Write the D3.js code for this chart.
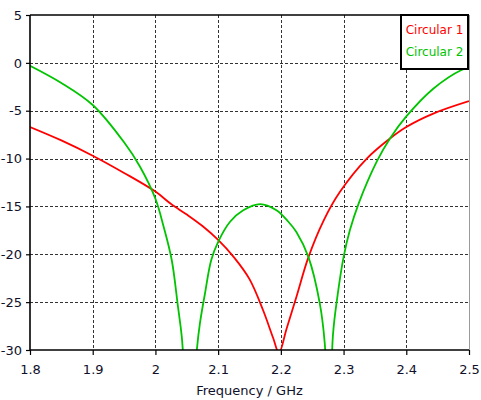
<!DOCTYPE html>
<html>
<head>
<meta charset="utf-8">
<script src="https://cdn.jsdelivr.net/npm/d3@7"></script>
<style>
  html, body { margin: 0; padding: 0; background: #fff; }
  svg { display: block; }
  text { font-family: "DejaVu Sans", Verdana, sans-serif; }
</style>
</head>
<body>
<svg id="chart" width="481" height="400"></svg>
<script>
// Frequency sweep (GHz) and |S| levels (dB) for both circular ports
const freq1 = [1.80, 1.85, 1.90, 1.95, 2.00, 2.025, 2.05, 2.075, 2.10, 2.125, 2.15, 2.172, 2.188, 2.197,
               2.209, 2.225, 2.244, 2.268, 2.294, 2.337, 2.374, 2.40, 2.443, 2.50];
const circular1 = [-6.7, -8.1, -9.7, -11.5, -13.45, -14.75, -15.85, -17.05, -18.5, -20.3, -22.6, -25.9, -28.8, -30.3,
                   -27.8, -24.4, -20.3, -16.5, -13.5, -10.0, -7.9, -6.7, -5.3, -4.0];

const freq2 = [1.80, 1.85, 1.90, 1.95, 1.975, 2.00, 2.013, 2.026, 2.036, 2.042, 2.055,
               2.066, 2.071, 2.079, 2.089, 2.10, 2.119, 2.140, 2.167, 2.193, 2.212, 2.225, 2.244,
               2.262, 2.270, 2.277, 2.283, 2.290, 2.300, 2.310, 2.324, 2.353, 2.374, 2.40,
               2.443, 2.488, 2.50];
const circular2 = [-0.3, -2.1, -4.4, -8.3, -10.8, -14.2, -17.1, -20.6, -25.5, -28.6, -40,
                   -30.0, -27.2, -24.1, -20.6, -18.7, -16.6, -15.4, -14.75, -15.4, -16.6, -17.7, -20.3,
                   -25.1, -29.3, -40, -28.5, -24.5, -20.3, -17.5, -14.7, -10.3, -7.9, -5.6,
                   -2.7, -0.74, -0.5];

const xTicks = [1.8, 1.9, 2.0, 2.1, 2.2, 2.3, 2.4, 2.5];
const yTicks = [5, 0, -5, -10, -15, -20, -25, -30];
const seriesNames = ["Circular 1", "Circular 2"];
const seriesColors = ["#ff0000", "#00c400"];

const svg = d3.select("#chart");
const pL = 30, pR = 469, pT = 15, pB = 350;

const x = d3.scaleLinear().domain([1.8, 2.5]).range([pL, pR]);
const y = d3.scaleLinear().domain([-30, 5]).range([pB, pT]);

// dashed grid
const grid = svg.append("g").attr("stroke", "#333").attr("stroke-width", 1)
  .attr("stroke-dasharray", "3,2").attr("shape-rendering", "crispEdges");
grid.selectAll("line.v").data(xTicks.slice(1, -1)).join("line").attr("class", "v")
  .attr("x1", d => Math.round(x(d)) + 0.5).attr("x2", d => Math.round(x(d)) + 0.5)
  .attr("y1", pT).attr("y2", pB);
grid.selectAll("line.h").data(yTicks.slice(1, -1)).join("line").attr("class", "h")
  .attr("y1", d => Math.round(y(d)) + 0.5).attr("y2", d => Math.round(y(d)) + 0.5)
  .attr("x1", pL).attr("x2", pR);

// curves, clipped to the plotting window
svg.append("clipPath").attr("id", "plotClip")
  .append("rect").attr("x", pL).attr("y", pT).attr("width", pR - pL).attr("height", pB - pT);

const line = d3.line().x(d => x(d[0])).y(d => y(d[1])).curve(d3.curveCatmullRom.alpha(0.5));
const series = [d3.zip(freq1, circular1), d3.zip(freq2, circular2)];
svg.append("g").attr("clip-path", "url(#plotClip)")
  .selectAll("path").data(series).join("path")
  .attr("d", line).attr("fill", "none")
  .attr("stroke", (d, i) => seriesColors[i]).attr("stroke-width", 1.8);

// frame: right edge is light, the others solid
svg.append("line").attr("x1", pR + 0.5).attr("x2", pR + 0.5).attr("y1", pT).attr("y2", pB)
  .attr("stroke", "#9a9a9a").attr("stroke-width", 1);

// axes (plain hyphen for negative labels)
const fmt = d => String(d);
const xAxis = d3.axisBottom(x).tickValues(xTicks).tickSize(5).tickPadding(10).tickFormat(fmt);
const gx = svg.append("g").attr("transform", `translate(0,${pB})`).call(xAxis);
const yAxis = d3.axisLeft(y).tickValues(yTicks).tickSize(4).tickPadding(4).tickFormat(fmt);
const gy = svg.append("g").attr("transform", `translate(${pL},0)`).call(yAxis);

[gx, gy].forEach(g => {
  g.select(".domain").attr("stroke", "#000").attr("stroke-width", 1.6);
  g.selectAll(".tick line").attr("stroke", "#000").attr("stroke-width", 1.2);
  g.selectAll(".tick text").attr("fill", "#10102a").attr("font-size", 13)
    .attr("font-family", "\"DejaVu Sans\", Verdana, sans-serif");
});
gx.select(".domain").attr("d", `M${pL},0H${pR}`);
gy.select(".domain").attr("d", `M0,${pB}V${pT}`);

svg.append("line").attr("x1", pL).attr("x2", pR).attr("y1", pT).attr("y2", pT)
  .attr("stroke", "#000").attr("stroke-width", 1.6);

// axis title
svg.append("text").attr("x", (pL + pR) / 2).attr("y", 395)
  .attr("text-anchor", "middle").attr("font-size", 13).attr("fill", "#10102a")
  .text("Frequency / GHz");

// legend
const lg = svg.append("g");
lg.append("rect").attr("x", 401).attr("y", 15).attr("width", 67).attr("height", 54)
  .attr("fill", "#fff").attr("stroke", "#000").attr("stroke-width", 2);
lg.selectAll("text").data(seriesNames).join("text")
  .attr("x", 434.5).attr("y", (d, i) => 34 + i * 21.5)
  .attr("text-anchor", "middle").attr("font-size", 12)
  .attr("fill", (d, i) => seriesColors[i]).text(d => d);
</script>
</body>
</html>
